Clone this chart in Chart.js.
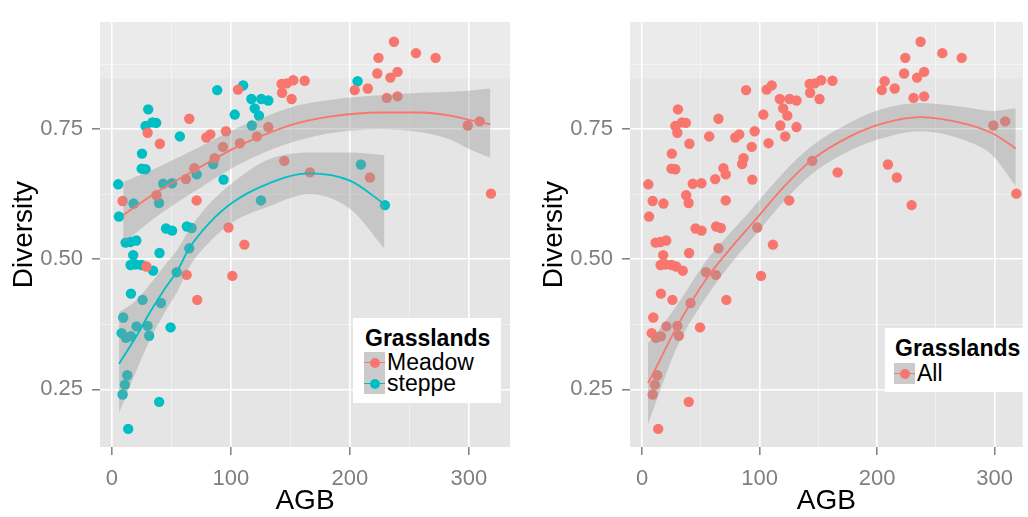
<!DOCTYPE html>
<html>
<head>
<meta charset="utf-8">
<script src="https://cdn.jsdelivr.net/npm/chart.js@4/dist/chart.umd.min.js"></script>
<style>
  body { margin: 0; background: #fff; width: 1028px; height: 517px; overflow: hidden; position: relative; font-family: "Liberation Sans", Arial, sans-serif; }
  canvas { position: absolute; top: 0; }
  #leftChart { left: 0; }
  #rightChart { left: 520px; }
  .legend { position: absolute; background: #fff; overflow: hidden; }
  .legend .title { position: absolute; font-weight: bold; font-size: 23px; line-height: 23px; white-space: nowrap; color: #000; }
  .legend .row { position: absolute; height: 21px; width: 140px; }
  .legend .key { position: absolute; left: 0; top: 0; width: 21px; height: 21px; background: #cbcbcb; }
  .legend .key i { position: absolute; left: 0; top: 9.5px; width: 21px; height: 1.6px; }
  .legend .key b { position: absolute; left: 5.5px; top: 5.5px; width: 10px; height: 10px; border-radius: 50%; }
  .legend .label { position: absolute; left: 23px; top: 0; font-size: 23px; line-height: 21px; white-space: nowrap; color: #000; }
</style>
</head>
<body>
<canvas id="leftChart" width="520" height="517"></canvas>
<canvas id="rightChart" width="508" height="517"></canvas>

<div class="legend" style="left:353px; top:318px; width:148px; height:85px;">
  <div class="title" style="left:12px; top:9px;">Grasslands</div>
  <div class="row" style="left:11px; top:34px;"><div class="key"><i style="background:#F8766D"></i><b style="background:#F8766D"></b></div><div class="label">Meadow</div></div>
  <div class="row" style="left:11px; top:55px;"><div class="key"><i style="background:#00BFC4"></i><b style="background:#00BFC4"></b></div><div class="label">steppe</div></div>
</div>

<div class="legend" style="left:885px; top:328px; width:143px; height:64px;">
  <div class="title" style="left:10px; top:8.5px;">Grasslands</div>
  <div class="row" style="left:9px; top:35px;"><div class="key"><i style="background:#F8766D"></i><b style="background:#F8766D"></b></div><div class="label">All</div></div>
</div>

<script>
// Meadow plots (red)
const meadowAGB = [237, 255.5, 272, 224, 223, 240, 234, 204, 215, 231, 240, 299, 309, 318.5, 142.6, 147, 152.4, 162, 143, 151,
  106, 65, 30, 40.3, 79.3, 82.7, 95.8, 107.6, 121.8, 131.4, 93.3, 86.3, 69.2, 62.2, 37.5, 71.2, 9, 144.8, 166.4, 216.8,
  98, 111.3, 29, 62.8, 101.2, 71.7];
const meadowDiv = [0.918, 0.896, 0.887, 0.887, 0.857, 0.860, 0.849, 0.825, 0.828, 0.810, 0.813, 0.757, 0.765, 0.626, 0.837, 0.838, 0.844, 0.843, 0.820, 0.808,
  0.826, 0.770, 0.743, 0.722, 0.734, 0.740, 0.746, 0.723, 0.736, 0.754, 0.716, 0.694, 0.675, 0.654, 0.623, 0.613, 0.612, 0.689, 0.667, 0.657,
  0.561, 0.528, 0.486, 0.470, 0.468, 0.422];

// Steppe plots (teal)
const steppeAGB = [206.4, 110.3, 88.5, 117.2, 125.5, 131.4, 120, 123.6, 103.2, 117.6, 30.5, 28.3, 34, 37.2, 57.1, 25.3, 25, 28.3, 5.3, 5.9,
  18.2, 39.6, 43.1, 50.5, 71.2, 85.1, 93.8, 209.2, 125.2, 229.4, 45.5, 50.6, 63, 67, 11.5, 15.5, 20.5, 65, 40, 17.9,
  15.7, 20, 25, 34.6, 54.4, 16, 25.8, 41.2, 9.5, 8.2, 11.8, 16, 20.7, 30, 31.3, 49.3, 12.9, 10.9, 9, 39.7, 13.7];
const steppeDiv = [0.842, 0.834, 0.825, 0.808, 0.808, 0.805, 0.790, 0.776, 0.778, 0.757, 0.788, 0.756, 0.763, 0.762, 0.736, 0.703, 0.674, 0.673, 0.644, 0.582,
  0.607, 0.608, 0.645, 0.646, 0.663, 0.683, 0.653, 0.682, 0.613, 0.604, 0.559, 0.555, 0.563, 0.560, 0.532, 0.533, 0.536, 0.521, 0.512, 0.508,
  0.489, 0.490, 0.489, 0.478, 0.475, 0.434, 0.422, 0.416, 0.388, 0.358, 0.349, 0.352, 0.371, 0.372, 0.353, 0.369, 0.277, 0.259, 0.240, 0.226, 0.174];

// smoothers: fit line, upper and lower band
const meadowFitX = [9.5, 35, 74, 105, 130, 155, 186, 225, 260, 284, 300, 318];
const meadowFit  = [0.585, 0.625, 0.677, 0.716, 0.741, 0.761, 0.775, 0.782, 0.782, 0.776, 0.768, 0.759];
const meadowHi   = [0.648, 0.673, 0.716, 0.752, 0.775, 0.795, 0.807, 0.815, 0.820, 0.822, 0.824, 0.828];
const meadowLo   = [0.530, 0.578, 0.637, 0.680, 0.707, 0.727, 0.743, 0.750, 0.744, 0.730, 0.712, 0.695];

const steppeFitX = [6, 20, 32, 45, 55, 65, 82, 102, 130, 166, 200, 229];
const steppeFit  = [0.299, 0.350, 0.398, 0.445, 0.478, 0.521, 0.570, 0.610, 0.644, 0.665, 0.651, 0.606];
const steppeHi   = [0.398, 0.420, 0.452, 0.490, 0.518, 0.557, 0.607, 0.648, 0.690, 0.705, 0.705, 0.700];
const steppeLo   = [0.205, 0.283, 0.345, 0.400, 0.438, 0.485, 0.533, 0.572, 0.600, 0.625, 0.597, 0.520];

const allFitX = [5, 9.3, 30, 55.5, 78, 95, 121, 144, 177, 205, 237, 275, 298, 318];
const allFit  = [0.262, 0.280, 0.372, 0.465, 0.528, 0.572, 0.640, 0.690, 0.736, 0.761, 0.773, 0.760, 0.742, 0.713];
const allHi   = [0.339, 0.350, 0.413, 0.500, 0.558, 0.601, 0.668, 0.717, 0.763, 0.789, 0.800, 0.792, 0.785, 0.790];
const allLo   = [0.183, 0.210, 0.333, 0.430, 0.498, 0.543, 0.612, 0.663, 0.709, 0.733, 0.746, 0.728, 0.700, 0.641];

// axes
const xTickValues = [0, 100, 200, 300];
const xTickLabels = ['0', '100', '200', '300'];
const xMinorTicks = [50, 150, 250];
const yTickValues = [0.25, 0.5, 0.75];
const yTickLabels = ['0.25', '0.50', '0.75'];
const yMinorTicks = [0.375, 0.625, 0.875];

const RED = '#F8766D';
const TEAL = '#00BFC4';
const RIBBON = 'rgba(153,153,153,0.4)';
const GREY = '#7f7f7f';
const FONT = '"Liberation Sans", Arial, sans-serif';

const allAGB = meadowAGB.concat(steppeAGB);
const allDiv = meadowDiv.concat(steppeDiv);

function pts(xs, ys) {
  return xs.map((x, i) => ({ x, y: ys[i] }));
}

function isMinor(c, minors) {
  return c.tick && minors.includes(c.tick.value);
}

function gridOpts(minors) {
  return {
    color: (c) => isMinor(c, minors) ? 'rgba(255,255,255,0.55)' : '#ffffff',
    lineWidth: (c) => isMinor(c, minors) ? 0.8 : 1.6,
    tickColor: (c) => isMinor(c, minors) ? 'rgba(0,0,0,0)' : GREY,
    tickWidth: 1.5,
    tickLength: 8,
  };
}

const panelBg = {
  id: 'panelBg',
  beforeDraw(chart) {
    const { ctx, chartArea: a, scales } = chart;
    ctx.save();
    ctx.fillStyle = '#e5e5e5';
    ctx.fillRect(a.left, a.top, a.width, a.height);
    ctx.fillStyle = '#ebebeb';
    ctx.fillRect(a.left, a.top, a.width, scales.y.getPixelForValue(0.847) - a.top);
    ctx.restore();
  }
};

function pointSet(xs, ys, color) {
  return { type: 'scatter', data: pts(xs, ys), backgroundColor: color, borderWidth: 0, pointRadius: 5.2, order: 6 };
}

function bandSet(xs, ys, fillTarget) {
  return {
    type: 'line', data: pts(xs, ys), pointRadius: 0, borderWidth: 0, borderColor: 'rgba(0,0,0,0)',
    backgroundColor: RIBBON, fill: fillTarget === undefined ? false : { target: fillTarget },
    cubicInterpolationMode: 'monotone', order: 4,
  };
}

function fitSet(xs, ys, color) {
  return { type: 'line', data: pts(xs, ys), pointRadius: 0, borderWidth: 1.8, borderColor: color, fill: false, cubicInterpolationMode: 'monotone', order: 1 };
}

function makePanel(id, datasets, cfg) {
  return new Chart(document.getElementById(id), {
    type: 'scatter',
    data: { datasets },
    plugins: [panelBg],
    options: {
      responsive: false,
      animation: false,
      events: [],
      layout: { padding: { top: 10, right: cfg.padRight, left: 0, bottom: 0 } },
      plugins: { legend: { display: false }, tooltip: { enabled: false } },
      scales: {
        x: {
          type: 'linear', min: cfg.xMin, max: cfg.xMax,
          afterBuildTicks: (s) => { s.ticks = xTickValues.concat(xMinorTicks).sort((a, b) => a - b).map((v) => ({ value: v })); },
          afterFit: (s) => { s.height = 70; },
          ticks: {
            autoSkip: false, maxRotation: 0, padding: 11, color: GREY, font: { size: 22, family: FONT },
            callback: (v) => { const i = xTickValues.indexOf(v); return i < 0 ? '' : xTickLabels[i]; },
          },
          grid: gridOpts(xMinorTicks),
          border: { display: false },
          title: { display: true, text: 'AGB', color: '#000', font: { size: 28, family: FONT, lineHeight: 1.1 }, padding: { top: 0, bottom: 0 } },
        },
        y: {
          type: 'linear', min: 0.1392, max: 0.9555,
          afterBuildTicks: (s) => { s.ticks = yTickValues.concat(yMinorTicks).sort((a, b) => a - b).map((v) => ({ value: v })); },
          afterFit: (s) => { s.width = cfg.yWidth; },
          ticks: {
            autoSkip: false, padding: 9, color: GREY, font: { size: 22, family: FONT },
            callback: (v) => { const i = yTickValues.indexOf(v); return i < 0 ? '' : yTickLabels[i]; },
          },
          grid: gridOpts(yMinorTicks),
          border: { display: false },
          title: { display: true, text: 'Diversity', color: '#000', font: { size: 28, family: FONT }, padding: { top: cfg.titlePad, bottom: 0 } },
        },
      },
    },
  });
}

makePanel('leftChart', [
  pointSet(meadowAGB, meadowDiv, RED),
  pointSet(steppeAGB, steppeDiv, TEAL),
  bandSet(meadowFitX, meadowLo),
  bandSet(meadowFitX, meadowHi, 2),
  bandSet(steppeFitX, steppeLo),
  bandSet(steppeFitX, steppeHi, 4),
  fitSet(meadowFitX, meadowFit, RED),
  fitSet(steppeFitX, steppeFit, TEAL),
], { xMin: -10, xMax: 334.5, padRight: 10, yWidth: 100, titlePad: 7 });

makePanel('rightChart', [
  pointSet(allAGB, allDiv, RED),
  bandSet(allFitX, allLo),
  bandSet(allFitX, allHi, 1),
  fitSet(allFitX, allFit, RED),
], { xMin: -10.3, xMax: 324, padRight: 0, yWidth: 110, titlePad: 17 });
</script>
</body>
</html>
